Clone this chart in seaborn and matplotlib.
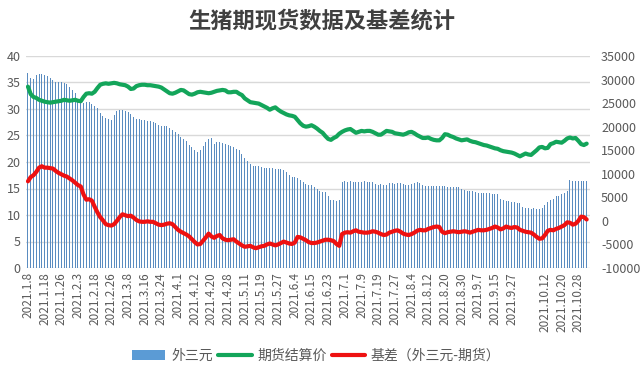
import numpy as np
import pandas as pd
import matplotlib
matplotlib.use("Agg")
import matplotlib.pyplot as plt
import seaborn as sns
from matplotlib.patches import Patch
from matplotlib.lines import Line2D

# -----------------------------
# Data
# -----------------------------
# spot price 外三元, yuan/kg (left axis)
spot = [
    36.7, 35.8, 35.6, 36.4, 36.6, 36.6, 36.5, 36.2, 35.9, 35.5,
    35.1, 35.0, 35.0, 34.9, 34.7, 34.2, 33.6, 33.1, 31.9, 31.4,
    31.2, 31.3, 31.3, 31.0, 30.5, 30.1, 29.3, 28.6, 28.3, 28.1,
    27.9, 28.8, 29.6, 29.8, 29.9, 29.7, 29.4, 29.0, 28.5, 28.2,
    28.1, 27.9, 27.9, 27.8, 27.8, 27.6, 27.3, 26.9, 26.8, 26.8,
    26.7, 26.4, 26.0, 25.6, 25.3, 24.8, 24.4, 23.9, 23.3, 22.8,
    22.3, 21.9, 22.2, 23.0, 23.8, 24.3, 24.5, 23.4, 23.7, 23.7,
    23.6, 23.4, 23.2, 23.0, 22.8, 22.4, 22.2, 21.5, 20.8, 20.1,
    19.6, 19.3, 19.2, 19.2, 19.1, 18.9, 18.8, 18.8, 18.8, 18.7,
    18.7, 18.6, 18.5, 18.2, 17.6, 17.2, 17.1, 17.0, 16.6, 16.2,
    15.8, 15.7, 15.6, 15.3, 15.0, 14.6, 14.4, 14.3, 13.6, 12.9,
    12.8, 12.7, 12.8, 16.2, 16.4, 16.3, 16.4, 16.3, 16.2, 16.3,
    16.2, 16.4, 16.3, 16.2, 16.3, 15.9, 15.7, 15.8, 15.6, 15.7,
    16.0, 16.1, 15.9, 16.0, 16.0, 15.8, 15.7, 15.7, 15.8, 16.1,
    16.2, 16.0, 15.6, 15.5, 15.5, 15.4, 15.5, 15.4, 15.5, 15.4,
    15.4, 15.3, 15.3, 15.2, 15.3, 15.2, 15.0, 14.7, 14.6, 14.6,
    14.5, 14.3, 14.2, 14.2, 14.1, 14.2, 14.1, 14.0, 14.0, 13.9,
    13.1, 12.8, 12.6, 12.6, 12.5, 12.5, 12.3, 12.2, 11.6, 11.3,
    11.3, 11.2, 11.3, 11.1, 11.1, 11.4, 11.9, 12.4, 12.8, 13.1,
    13.5, 13.6, 13.9, 14.1, 14.5, 16.6, 16.4, 16.5, 16.4, 16.5,
    16.4, 16.5,
]

# futures settlement price 期货结算价, yuan/t (right axis)
futures = [
    28500, 26900, 26300, 26100, 25700, 25500, 25300, 25200, 25100, 25200,
    25300, 25400, 25500, 25700, 25600, 25500, 25600, 25700, 25500, 25400,
    26300, 27000, 27100, 27000, 27400, 28200, 28900, 29100, 29200, 29100,
    29200, 29300, 29200, 29000, 28900, 28800, 28500, 28000, 28100, 28600,
    28800, 28900, 28900, 28800, 28800, 28700, 28600, 28500, 28300, 27900,
    27500, 27100, 27000, 27200, 27500, 27800, 27700, 27300, 26900, 26800,
    27000, 27300, 27400, 27300, 27200, 27100, 27200, 27400, 27600, 27700,
    27800, 27700, 27300, 27300, 27400, 27400, 27000, 26700, 26000, 25600,
    25200, 25100, 25000, 24900, 24600, 24300, 24000, 23600, 23900, 24100,
    23600, 23200, 22900, 22600, 22400, 22300, 22100, 21400, 20700, 20200,
    20000, 20100, 20300, 20000, 19600, 19100, 18700, 18000, 17400, 17200,
    17600, 17900, 18500, 18900, 19200, 19400, 19500, 19100, 18700, 18900,
    19100, 19000, 19100, 19100, 18900, 18600, 18300, 18300, 18700, 19100,
    19000, 18900, 18600, 18500, 18400, 18300, 18500, 18800, 18900, 18600,
    18200, 17900, 17600, 17600, 17700, 17400, 17200, 17100, 17100, 17600,
    18400, 18300, 18000, 17800, 17500, 17300, 17100, 17200, 17300, 17000,
    16800, 16700, 16500, 16300, 16100, 16000, 15800, 15600, 15400, 15300,
    15000, 14800, 14700, 14600, 14500, 14300, 14000, 13700, 14000, 14300,
    14100, 14000, 14500, 15000, 15600, 15700, 15400, 15500, 16300, 16500,
    16800, 16700, 16600, 17000, 17500, 17700, 17500, 17600, 17000, 16300,
    16100, 16400,
]

# basis 基差 (spot - futures), yuan/t (right axis)
basis = [
    8400, 9300, 9700, 10400, 11300, 11600, 11300, 11300, 11200, 11100,
    10600, 10200, 9900, 9600, 9400, 9000, 8600, 8100, 7600, 7300,
    5600, 4500, 4600, 4300, 3000, 1800, 800, 100, -700, -900,
    -1000, -700, 0, 800, 1400, 1200, 1000, 1100, 700, 200,
    -100, -200, -200, -100, -200, -200, -500, -800, -900, -800,
    -600, -500, -700, -1300, -1900, -2300, -2600, -2900, -3300, -3900,
    -4500, -5000, -4900, -4200, -3500, -2700, -3300, -3600, -3200, -3000,
    -3700, -4000, -4100, -4000, -3900, -4400, -4800, -5200, -5500, -5400,
    -5300, -5600, -5800, -5600, -5400, -5300, -5000, -4800, -5000, -5200,
    -5000, -4700, -4400, -4600, -4800, -4900, -4600, -3400, -3500, -3800,
    -4100, -4500, -4700, -4700, -4600, -4400, -4200, -4000, -4000, -4100,
    -4300, -4900, -5300, -2800, -2500, -2400, -2500, -2200, -2000, -2300,
    -2400, -2500, -2500, -2400, -2200, -2300, -2500, -2800, -3000, -2900,
    -2500, -2300, -2100, -2000, -2300, -2700, -2900, -3000, -2800, -2500,
    -2100, -1900, -2000, -2000, -1700, -1500, -1300, -1200, -1300, -2300,
    -2600, -2400, -2300, -2200, -2300, -2400, -2300, -2200, -2300, -2500,
    -2300, -2100, -1900, -2000, -2000, -1900, -1700, -1500, -1200, -1400,
    -1800, -1600, -1200, -1400, -1500, -1300, -1400, -1900, -2100, -2300,
    -2400, -2500, -2900, -3400, -3800, -3700, -3000, -2100, -1900, -2000,
    -1700, -1500, -1200, -900, -300, -400, -800, -600, 0, 900,
    800, 300,
]

# x-axis labels, one every 6 trading days (one slot left blank)
tick_labels = [
    '2021.1.8', '2021.1.18', '2021.1.26', '2021.2.3', '2021.2.18', '2021.2.26',
    '2021.3.8', '2021.3.16', '2021.3.24', '2021.4.1', '2021.4.12', '2021.4.20',
    '2021.4.28', '2021.5.11', '2021.5.19', '2021.5.27', '2021.6.4', '2021.6.15',
    '2021.6.23', '2021.7.1', '2021.7.9', '2021.7.19', '2021.7.27', '2021.8.4',
    '2021.8.12', '2021.8.20', '2021.8.30', '2021.9.7', '2021.9.15', '2021.9.27',
    '', '2021.10.12', '2021.10.20', '2021.10.28',
]

df = pd.DataFrame({'idx': np.arange(len(spot)), 'spot': spot,
                   'futures': futures, 'basis': basis})

# -----------------------------
# Style
# -----------------------------
sns.set_theme(style="white")
plt.rcParams['font.family'] = ['Noto Sans CJK SC', 'DejaVu Sans']
plt.rcParams['axes.unicode_minus'] = False

TXT = '#595959'
BLUE = '#5b9bd5'
BAR = '#5a8cc0'
GREEN = '#13a55a'
RED = '#ee1111'

fig = plt.figure(figsize=(6.43, 3.82), dpi=100)
ax = fig.add_axes([26 / 643, 1 - 268 / 382, 564 / 643, 212 / 382])

# bars: spot price (thin, so they read as stripes like the original)
sns.barplot(data=df, x='idx', y='spot', ax=ax, color=BAR, width=0.36,
            saturation=1, linewidth=0)
ax.set_ylim(0, 40)
ax.set_yticks(np.arange(0, 41, 5))
ax.yaxis.grid(True, color='#d9d9d9', linewidth=1)
ax.set_axisbelow(True)

# lines: futures and basis on the right axis
ax2 = ax.twinx()
sns.lineplot(data=df, x='idx', y='futures', ax=ax2, color=GREEN, linewidth=3)
sns.lineplot(data=df, x='idx', y='basis', ax=ax2, color=RED, linewidth=3)
ax2.set_ylim(-10000, 35000)
ax2.set_yticks(np.arange(-10000, 35001, 5000))
ax2.grid(False)

ax.set_xlim(-0.7, 202.2)
ax.set_xticks(np.arange(0, 6 * len(tick_labels), 6))
ax.set_xticklabels(tick_labels, rotation=90, fontsize=8.5, color=TXT)
ax.tick_params(axis='x', length=0, pad=3)
ax.tick_params(axis='y', length=0, pad=4, labelsize=9, labelcolor=TXT)
ax2.tick_params(axis='y', length=0, pad=8, labelsize=9, labelcolor=TXT)
for a in (ax, ax2):
    a.set_xlabel('')
    a.set_ylabel('')
    for s in a.spines.values():
        s.set_visible(False)

fig.text(0.5, 1 - 21 / 382, '生猪期现货数据及基差统计', ha='center', va='center',
         fontsize=16, fontweight='bold', color='#404040')

handles = [Patch(facecolor=BLUE, edgecolor='none'),
           Line2D([], [], color=GREEN, linewidth=3),
           Line2D([], [], color=RED, linewidth=3)]
labels = ['外三元', '期货结算价', '基差（外三元-期货）']
fig.legend(handles, labels, loc='center', bbox_to_anchor=(0.492, 1 - 356 / 382),
           ncol=3, frameon=False, fontsize=10, handlelength=2.4,
           handleheight=0.7, handletextpad=0.4, columnspacing=0.4,
           labelcolor=TXT)

fig.savefig("out.png", dpi=100)
